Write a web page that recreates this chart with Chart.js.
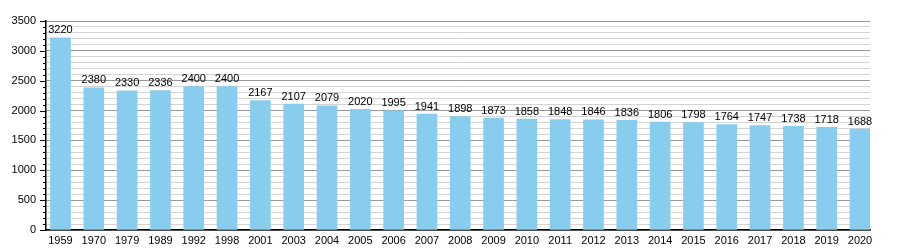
<!DOCTYPE html>
<html>
<head>
<meta charset="utf-8">
<script src="https://cdn.jsdelivr.net/npm/chart.js@4"></script>
<style>
  html, body { margin: 0; padding: 0; background: #fff; }
  #wrap { width: 900px; height: 250px; }
</style>
</head>
<body>
<div id="wrap"><canvas id="c" width="900" height="250"></canvas></div>
<script>
const years = ['1959', '1970', '1979', '1989', '1992', '1998', '2001', '2003', '2004', '2005', '2006', '2007', '2008',
    '2009', '2010', '2011', '2012', '2013', '2014', '2015', '2016', '2017', '2018', '2019', '2020'];
const population = [3220, 2380, 2330, 2336, 2400, 2400, 2167, 2107, 2079, 2020, 1995, 1941, 1898,
    1873, 1858, 1848, 1846, 1836, 1806, 1798, 1764, 1747, 1738, 1718, 1688];
const yMax = 3500;
const majorStep = 500;
const minorStep = 100;

const FONT = '"Liberation Sans", Arial, sans-serif';

// value labels on top of the bars
const barLabels = {
    id: 'barLabels',
    afterDatasetsDraw(chart)
    {
        let ctx = chart.ctx;
        let meta = chart.getDatasetMeta(0);
        ctx.save();
        ctx.font = '11px ' + FONT;
        ctx.fillStyle = '#000';
        ctx.textAlign = 'center';
        ctx.textBaseline = 'bottom';
        meta.data.forEach((bar, i) =>
        {
            ctx.fillText(String(population[i]), bar.x, bar.y - 2);
        });
        ctx.restore();
    }
};

// y-axis tick marks: long at majors, short at minors
const yTicks = {
    id: 'yTicks',
    afterDraw(chart)
    {
        let ctx = chart.ctx;
        let y = chart.scales.y;
        let x0 = chart.chartArea.left;
        ctx.save();
        ctx.strokeStyle = '#000';
        ctx.lineWidth = 1;
        for (let v = 0; v <= yMax; v += minorStep)
        {
            let py = Math.round(y.getPixelForValue(v)) + 0.5;
            let len = v % majorStep === 0 ? 6 : 3;
            ctx.beginPath();
            ctx.moveTo(x0 - len, py);
            ctx.lineTo(x0, py);
            ctx.stroke();
        }
        ctx.restore();
    }
};

new Chart('c', {
    type: 'bar',
    data: {
        datasets: [{
            data: population.map((v, i) => ({ x: i, y: v })),
            backgroundColor: '#88cdee',
            borderWidth: 0,
            barThickness: 20,
        }]
    },
    options: {
        responsive: false,
        animation: false,
        parsing: true,
        layout: { padding: { top: 21, right: 30, left: 0, bottom: 0 } },
        plugins: {
            legend: { display: false },
            tooltip: { enabled: false },
        },
        scales: {
            x: {
                type: 'linear',
                min: -0.435,
                max: 24.3,
                offset: false,
                grid: { display: false, drawTicks: false },
                border: { color: '#000', width: 1.5 },
                afterBuildTicks: scale => { scale.ticks = years.map((_, i) => ({ value: i })); },
                ticks: {
                    color: '#000',
                    font: { family: FONT, size: 11 },
                    maxRotation: 0,
                    autoSkip: false,
                    padding: 4,
                    callback: v => years[v],
                },
                afterFit: scale => { scale.height = 20; },
            },
            y: {
                min: 0,
                max: yMax,
                border: { color: '#000', width: 1.5 },
                grid: {
                    drawTicks: false,
                    color: ctx => ctx.tick && ctx.tick.value % majorStep === 0 ? '#999' : '#d4d4d4',
                    lineWidth: 1,
                },
                ticks: {
                    stepSize: minorStep,
                    autoSkip: false,
                    color: '#000',
                    font: { family: FONT, size: 11 },
                    padding: 10,
                    callback: v => v % majorStep === 0 ? String(v) : '',
                },
                afterFit: scale => { scale.width = 46; },
            },
        },
    },
    plugins: [barLabels, yTicks],
});
</script>
</body>
</html>
